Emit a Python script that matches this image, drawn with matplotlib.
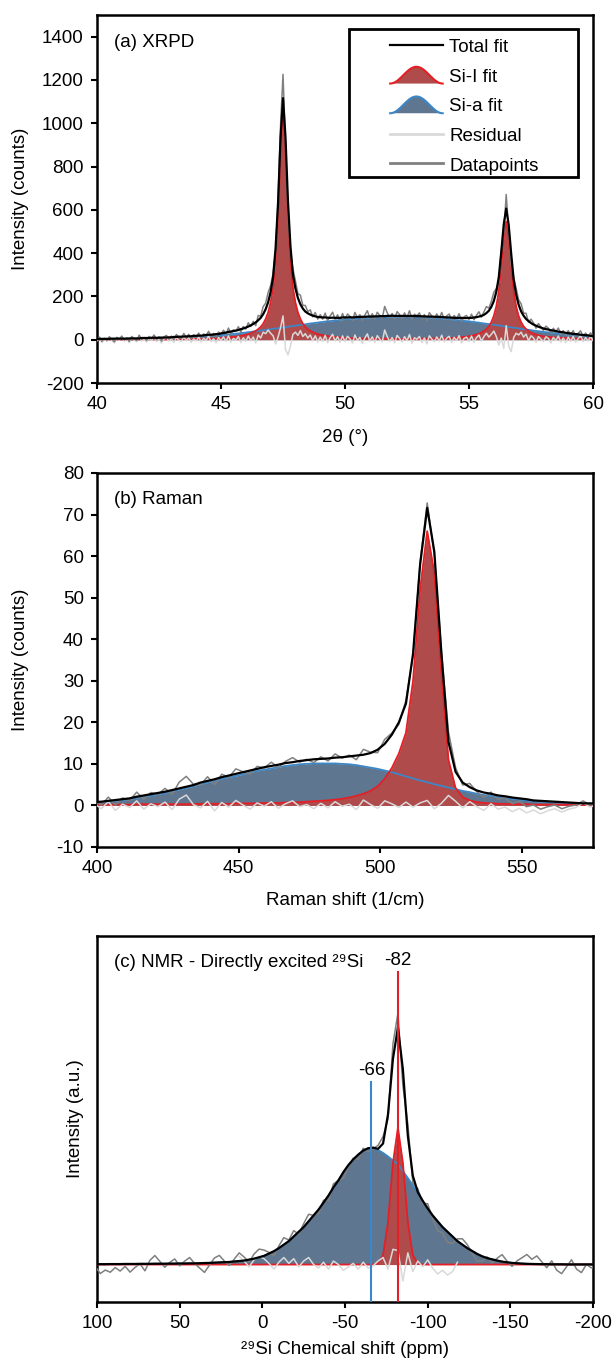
import numpy as np
import matplotlib.pyplot as plt
from matplotlib.legend_handler import HandlerBase
from matplotlib.patches import Polygon, Patch, Rectangle
from matplotlib.lines import Line2D

plt.rcParams['font.family'] = ['Liberation Sans', 'DejaVu Sans']
plt.rcParams['axes.unicode_minus'] = False

# ---------------- (a) XRPD, 2theta 40..60 in 0.1 steps ----------------
xrd_x = np.round(np.arange(40.0, 60.05, 0.1), 1)
xrd_sii = [
    1, 1, 1, 1, 1, 1, 1, 1, 1, 1,
    1, 1, 1, 1, 1, 1, 1, 1, 2, 2,
    2, 2, 2, 2, 2, 2, 2, 2, 2, 2,
    2, 3, 3, 3, 3, 3, 3, 3, 3, 4,
    4, 4, 4, 4, 5, 5, 5, 5, 6, 6,
    8, 9, 10, 11, 12, 13, 14, 16, 18, 20,
    23, 26, 30, 35, 41, 49, 59, 74, 96, 126,
    172, 239, 370, 579, 878, 1060, 878, 579, 370, 239,
    172, 126, 96, 74, 59, 49, 41, 35, 30, 26,
    23, 21, 19, 17, 15, 14, 12, 11, 10, 10,
    9, 8, 8, 7, 7, 7, 6, 6, 6, 6,
    5, 5, 5, 5, 5, 5, 5, 5, 5, 5,
    4, 4, 4, 4, 4, 4, 5, 5, 5, 5,
    5, 5, 5, 5, 6, 6, 6, 7, 7, 7,
    7, 7, 8, 8, 9, 10, 11, 12, 13, 14,
    16, 18, 21, 24, 28, 33, 40, 49, 62, 81,
    110, 154, 223, 341, 471, 546, 471, 341, 223, 154,
    110, 81, 62, 49, 40, 33, 28, 24, 21, 18,
    16, 14, 13, 12, 11, 10, 9, 9, 8, 8,
    7, 7, 6, 6, 6, 5, 5, 5, 5, 4,
    4]
xrd_sia = [
    3, 3, 3, 3, 3, 3, 4, 4, 4, 4,
    4, 4, 4, 5, 5, 5, 5, 5, 6, 6,
    6, 6, 7, 7, 7, 7, 8, 8, 8, 9,
    9, 10, 10, 11, 11, 12, 12, 13, 13, 14,
    14, 15, 15, 16, 17, 18, 18, 19, 20, 20,
    21, 22, 23, 25, 26, 27, 28, 29, 31, 32,
    33, 35, 36, 38, 39, 41, 42, 44, 45, 47,
    48, 50, 52, 53, 55, 56, 58, 60, 62, 63,
    65, 67, 68, 70, 71, 73, 75, 76, 78, 79,
    81, 82, 84, 85, 86, 88, 89, 90, 91, 93,
    94, 95, 96, 96, 97, 98, 99, 100, 100, 101,
    102, 102, 103, 103, 104, 104, 104, 105, 105, 106,
    106, 106, 106, 106, 106, 105, 105, 105, 104, 104,
    104, 103, 103, 102, 101, 101, 100, 99, 98, 98,
    97, 96, 95, 94, 92, 91, 90, 89, 87, 86,
    85, 83, 82, 80, 79, 77, 75, 74, 72, 71,
    69, 67, 66, 64, 62, 60, 59, 57, 55, 54,
    52, 50, 49, 47, 46, 44, 42, 41, 39, 38,
    36, 35, 34, 32, 31, 30, 28, 27, 26, 24,
    23, 22, 21, 20, 19, 18, 17, 16, 15, 14,
    13]
xrd_resid = [
    -5, 8, -12, 3, -8, 10, -3, -15, 6, -2,
    12, -7, 4, -14, 9, -1, -10, 15, -6, 2,
    -11, 7, -4, 13, -9, 5, -16, 3, 10, -7,
    6, -13, 11, -2, -8, 14, -5, 9, -12, 4,
    -6, 12, -10, 7, -3, 16, -9, 5, -14, 10,
    -4, 13, -8, 18, -11, 6, -2, 15, -13, 9,
    -7, 17, -5, 12, -15, 22, 8, 35, 28, 45,
    30, 18, -20, 12, 55, 110, -45, -70, -30, 25,
    35, 20, 42, 15, 28, 8, 22, -5, 18, -10,
    12, -8, 20, -14, 9, 25, -6, 14, -12, 18,
    -9, 16, 4, -15, 22, -4, 11, -18, 8, 27,
    -7, 13, -12, 19, 3, -10, 45, 15, -8, 10,
    -14, 20, 6, -11, 14, -5, 24, -16, 9, 2,
    15, -12, 8, -19, 18, 3, -9, 13, -6, 21,
    -10, 7, 16, -13, 11, -4, 19, -15, 6, 12,
    -8, 17, -11, 9, 22, -6, 14, 30, 12, 25,
    40, 15, -25, 8, -40, 65, -30, -55, 10, 30,
    22, 35, 12, 26, -5, 18, 8, -12, 15, 3,
    -9, 14, 6, -15, 11, -4, 17, -10, 8, -13,
    12, -7, 15, -11, 5, 18, -9, 10, -6, 14,
    -4]

# ---------------- (b) Raman, 399..576.5 in 2.5 steps ----------------
ram_x = np.arange(399, 577, 2.5)
ram_sii = [
    0.2, 0.2, 0.2, 0.2, 0.2, 0.2, 0.3, 0.3, 0.3, 0.3,
    0.3, 0.3, 0.3, 0.3, 0.3, 0.4, 0.4, 0.4, 0.4, 0.4,
    0.5, 0.5, 0.5, 0.5, 0.6, 0.6, 0.6, 0.7, 0.7, 0.8,
    0.9, 1.0, 1.1, 1.2, 1.4, 1.6, 1.9, 2.3, 2.8, 3.5,
    4.6, 6.4, 9.0, 12.5, 17.5, 30, 52, 66, 56, 32,
    11, 4.2, 2.0, 1.2, 0.8, 0.6, 0.5, 0.4, 0.4, 0.3,
    0.3, 0.3, 0.2, 0.2, 0.2, 0.2, 0.2, 0.2, 0.1, 0.1,
    0.1, 0.1]
ram_sia = [
    0.6, 0.7, 0.9, 1.1, 1.3, 1.5, 1.8, 2.1, 2.4, 2.7,
    3.0, 3.4, 3.8, 4.2, 4.6, 5.1, 5.5, 5.9, 6.4, 6.8,
    7.1, 7.5, 7.9, 8.3, 8.6, 8.9, 9.2, 9.5, 9.7, 9.9,
    10.0, 10.1, 10.1, 10.1, 10.1, 10.0, 9.9, 9.7, 9.4, 9.1,
    8.8, 8.4, 8.0, 7.5, 7.0, 6.5, 6.0, 5.6, 5.1, 4.7,
    4.3, 3.9, 3.5, 3.2, 2.8, 2.5, 2.3, 2.0, 1.8, 1.6,
    1.4, 1.2, 1.0, 0.9, 0.8, 0.7, 0.6, 0.5, 0.5, 0.4,
    0.4, 0.3]
ram_resid = [
    0.5, -0.8, 0.9, -1.2, 0.3, -0.5, 1.1, -0.9, 0.4, -0.3,
    0.8, -1.0, 1.5, 2.5, 0.2, -0.6, 1.0, -1.3, 0.7, -0.4,
    1.2, 0.1, -0.9, 0.6, -0.2, 0.9, -0.7, 0.4, 1.1, -0.3,
    0.2, -0.8, 0.5, -0.6, 0.9, -0.2, 0.3, -1.0, 1.3, 0.2,
    -0.7, 1.1, 0.4, -0.5, 0.8, -0.4, 0.6, 1.2, -0.8, 0.5,
    2.4, 1.0, -0.6, 0.9, -0.3, -1.2, 0.4, -0.9, -0.4, -1.5,
    -0.7, -1.8, -1.1, -2.0, -1.3, -0.8, -1.6, -0.9, -0.5, 0.6,
    -0.4, 0.2]

# ---------------- (c) NMR, 101..-202 ppm in 3 ppm steps ----------------
nmr_x = np.arange(101, -203, -3)
nmr_sii = [0.0] * 57 + [0.01, 0.08, 0.36, 0.87, 1.17, 0.87, 0.36, 0.08, 0.01] + [0.0] * 36
nmr_sia = [
    0.003, 0.003, 0.003, 0.004, 0.004, 0.004, 0.005, 0.005, 0.005, 0.006,
    0.006, 0.006, 0.007, 0.007, 0.007, 0.008, 0.008, 0.009, 0.009, 0.010,
    0.010, 0.011, 0.013, 0.014, 0.016, 0.018, 0.020, 0.022, 0.026, 0.030,
    0.034, 0.042, 0.050, 0.062, 0.074, 0.094, 0.114, 0.14, 0.17, 0.20,
    0.24, 0.28, 0.32, 0.37, 0.42, 0.47, 0.53, 0.59, 0.66, 0.72,
    0.79, 0.85, 0.90, 0.94, 0.975, 0.995, 1.0, 0.98, 0.955, 0.925,
    0.89, 0.86, 0.80, 0.74, 0.68, 0.61, 0.545, 0.48, 0.42, 0.37,
    0.32, 0.28, 0.24, 0.20, 0.17, 0.14, 0.115, 0.09, 0.07, 0.055,
    0.044, 0.034, 0.025, 0.019, 0.014, 0.011, 0.008, 0.006, 0.005, 0.004,
    0.003, 0.003, 0.002, 0.002, 0.002, 0.001, 0.001, 0.001, 0.001, 0.001,
    0.001, 0.001]
nmr_resid = [
    -0.02, -0.08, -0.05, -0.07, -0.03, -0.06, -0.02, -0.07, -0.03, 0.0,
    -0.06, 0.03, 0.07, 0.02, -0.03, 0.01, 0.04, -0.02, 0.02, 0.05,
    0.0, -0.04, -0.08, -0.02, 0.04, 0.06, 0.01, -0.03, 0.02, 0.07,
    0.03, -0.02, 0.04, 0.07, 0.05, 0.01, -0.04, 0.02, 0.06, 0.01,
    0.05, -0.02, 0.03, 0.06, 0.0, -0.03, 0.02, -0.04, 0.03, 0.0,
    -0.05, -0.02, 0.01, -0.04, 0.02, -0.03, -0.01, 0.03, 0.06, -0.04,
    0.13, 0.12, -0.14, 0.1, -0.06, 0.03, -0.02, 0.04, -0.03, -0.08,
    -0.05, -0.09, -0.06, 0.02, 0.05, 0.03, -0.02, -0.06, -0.04, 0.01,
    -0.03, 0.02, 0.06, 0.01, -0.03, 0.02, 0.05, 0.08, 0.04, 0.07,
    0.02, -0.03, 0.03, -0.05, -0.08, -0.02, 0.04, -0.04, -0.07, 0.0,
    -0.03, -0.01]
nmr_peaks = [-66, -82]
nmr_peak_labels = ['-66', '-82']

C_SII_FILL = '#b04b4c'
C_SII_EDGE = '#e41f26'
C_SIA_FILL = '#5e7690'
C_SIA_EDGE = '#3b87c7'
C_RESID = '#d9d9d9'
C_DATA = '#808080'
FS = 13.5


def draw_panel(ax, x, sii, sia, resid, resid_mask=None):
    sii = np.asarray(sii, float)
    sia = np.asarray(sia, float)
    resid = np.asarray(resid, float)
    total = sii + sia
    data = total + resid
    ax.fill_between(x, 0, sia, color=C_SIA_FILL, lw=0, zorder=1)
    ax.fill_between(x, 0, sii, color=C_SII_FILL, lw=0, zorder=2)
    ax.plot(x, sia, color=C_SIA_EDGE, lw=1.3, zorder=3)
    ax.plot(x, sii, color=C_SII_EDGE, lw=1.3, zorder=3)
    if resid_mask is None:
        ax.plot(x, resid, color=C_RESID, lw=1.1, zorder=4)
    else:
        ax.plot(x[resid_mask], resid[resid_mask], color=C_RESID, lw=1.1, zorder=4)
    ax.plot(x, data, color=C_DATA, lw=1.1, zorder=5)
    ax.plot(x, total, color='black', lw=1.6, zorder=6)


def style_axes(ax, xlab, ylab, xlab_y, ylab_x):
    for s in ax.spines.values():
        s.set_linewidth(1.8)
    ax.tick_params(direction='out', length=4.5, width=1.5, labelsize=FS, pad=5)
    ax.set_xlabel(xlab, fontsize=FS)
    ax.set_ylabel(ylab, fontsize=FS)
    ax.xaxis.set_label_coords(0.5, xlab_y)
    ax.xaxis.label.set_va('center')
    ax.yaxis.set_label_coords(ylab_x, 0.5)
    ax.yaxis.label.set_va('center')


class HumpHandler(HandlerBase):
    def __init__(self, face, edge):
        super().__init__()
        self.face = face
        self.edge = edge

    def create_artists(self, legend, orig_handle, xdescent, ydescent,
                       width, height, fontsize, trans):
        t = np.linspace(0, 1, 41)
        px = -xdescent + t * width
        py = -ydescent + height * 0.5 * (1 - np.cos(2 * np.pi * t))
        poly = Polygon(np.column_stack([px, py]), closed=True,
                       facecolor=self.face, edgecolor='none', transform=trans)
        line = Line2D(px, py, color=self.edge, lw=1.5, transform=trans)
        return [poly, line]


fig = plt.figure(figsize=(6.12, 13.65), dpi=100)
ax_a = fig.add_axes([0.1585, 0.7194, 0.8105, 0.2696])
ax_b = fig.add_axes([0.1585, 0.3795, 0.8105, 0.274])
ax_c = fig.add_axes([0.1585, 0.0462, 0.8105, 0.268])

# (a) XRPD
draw_panel(ax_a, xrd_x, xrd_sii, xrd_sia, xrd_resid)
ax_a.set_xlim(40, 60)
ax_a.set_ylim(-200, 1500)
ax_a.set_xticks([40, 45, 50, 55, 60])
ax_a.set_yticks(np.arange(-200, 1401, 200))
style_axes(ax_a, '2θ (°)', 'Intensity (counts)', -0.147, -0.155)
ax_a.text(0.034, 0.924, '(a) XRPD', transform=ax_a.transAxes, fontsize=FS,
          va='center', ha='left')

h_tot = Line2D([], [], color='black', lw=1.6)
h_sii = Patch()
h_sia = Patch()
h_res = Line2D([], [], color=C_RESID, lw=2)
h_dat = Line2D([], [], color=C_DATA, lw=2)
ax_a.legend([h_tot, h_sii, h_sia, h_res, h_dat],
            ['Total fit', 'Si-I fit', 'Si-a fit', 'Residual', 'Datapoints'],
            handler_map={h_sii: HumpHandler(C_SII_FILL, C_SII_EDGE),
                         h_sia: HumpHandler(C_SIA_FILL, C_SIA_EDGE)},
            loc='upper left', bbox_to_anchor=(0.591, 0.940), frameon=False,
            borderpad=0, borderaxespad=0, handlelength=2.8, handleheight=1.0,
            handletextpad=0.35, labelspacing=0.58, fontsize=FS)
ax_a.add_patch(Rectangle((0.508, 0.560), 0.462, 0.402, transform=ax_a.transAxes,
                         fill=False, lw=2, ec='black', zorder=10, clip_on=False))

# (b) Raman
draw_panel(ax_b, ram_x, ram_sii, ram_sia, ram_resid)
ax_b.set_xlim(400, 575)
ax_b.set_ylim(-10, 80)
ax_b.set_xticks([400, 450, 500, 550])
ax_b.set_yticks(np.arange(-10, 81, 10))
style_axes(ax_b, 'Raman shift (1/cm)', 'Intensity (counts)', -0.142, -0.155)
ax_b.text(0.034, 0.928, '(b) Raman', transform=ax_b.transAxes, fontsize=FS,
          va='center', ha='left')

# (c) NMR
draw_panel(ax_c, nmr_x, nmr_sii, nmr_sia, nmr_resid,
           resid_mask=(nmr_x <= 15) & (nmr_x >= -120))
ax_c.set_xlim(100, -200)
ax_c.set_ylim(-0.32, 2.81)
ax_c.set_xticks([100, 50, 0, -50, -100, -150, -200])
ax_c.set_yticks([])
style_axes(ax_c, '²⁹Si Chemical shift (ppm)', 'Intensity (a.u.)', -0.13, -0.044)
ax_c.text(0.034, 0.929, '(c) NMR - Directly excited ²⁹Si', transform=ax_c.transAxes,
          fontsize=FS, va='center', ha='left')
for pk, lab, col, top, ty in zip(nmr_peaks, nmr_peak_labels,
                                 [C_SIA_EDGE, C_SII_EDGE], [0.601, 0.902], [0.633, 0.934]):
    ax_c.axvline(pk, ymin=0, ymax=top, color=col, lw=1.5, zorder=8)
    ax_c.text(pk, ty, lab, transform=ax_c.get_xaxis_transform(), fontsize=FS,
              ha='center', va='center')

fig.savefig('out.png', dpi=100)
